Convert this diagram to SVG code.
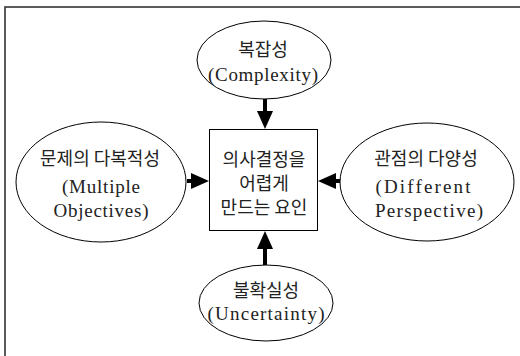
<svg xmlns="http://www.w3.org/2000/svg" width="520" height="356" viewBox="0 0 520 356">
<style>
.frame{fill:none;stroke:#333;stroke-width:1.6}
.node{fill:#fff;stroke:#000;stroke-width:1}
.ko{font-family:"Noto Sans CJK KR","Noto Sans",sans-serif;font-size:18px;fill:#222;text-anchor:middle}
.en{font-family:"Liberation Serif","DejaVu Serif",serif;font-size:19px;fill:#222;text-anchor:middle}
.conn{stroke:#000;stroke-width:4;fill:none}
</style>
<defs>
<marker id="ah" viewBox="0 0 18 16" markerWidth="18" markerHeight="16" refX="1" refY="8" orient="auto" markerUnits="userSpaceOnUse">
<path d="M0,0 L18,8 L0,16 z" fill="#000"/>
</marker>
</defs>
<rect x="0" y="0" width="520" height="356" fill="#fff"/>
<rect class="frame" x="5" y="7" width="600" height="420"/>
<g id="connectors">
<line class="conn" x1="265" y1="99" x2="265" y2="112" marker-end="url(#ah)"/>
<line class="conn" x1="265" y1="265" x2="265" y2="248" marker-end="url(#ah)"/>
<line class="conn" x1="187" y1="181" x2="192" y2="181" marker-end="url(#ah)"/>
<line class="conn" x1="341" y1="181" x2="335" y2="181" marker-end="url(#ah)"/>
</g>
<g id="center">
<rect class="node" x="209.5" y="129.5" width="108" height="101"/>
<text class="ko" x="264" y="166">의사결정을</text>
<text class="ko" x="264" y="190">어렵게</text>
<text class="ko" x="264" y="214">만드는 요인</text>
</g>
<g id="complexity">
<ellipse class="node" cx="264" cy="60" rx="67" ry="39"/>
<text class="ko" x="263" y="56">복잡성</text>
<text class="en" x="263" y="81" textLength="110" lengthAdjust="spacing">(Complexity)</text>
</g>
<g id="multiple">
<ellipse class="node" cx="101" cy="182" rx="85" ry="60"/>
<text class="ko" x="100" y="165">문제의 다복적성</text>
<text class="en" x="101" y="193" textLength="78" lengthAdjust="spacing">(Multiple</text>
<text class="en" x="101" y="217" textLength="95" lengthAdjust="spacing">Objectives)</text>
</g>
<g id="perspective">
<ellipse class="node" cx="427" cy="182" rx="87" ry="59"/>
<text class="ko" x="426" y="165">관점의 다양성</text>
<text class="en" x="423" y="193" textLength="95" lengthAdjust="spacing">(Different</text>
<text class="en" x="429" y="217" textLength="108" lengthAdjust="spacing">Perspective)</text>
</g>
<g id="uncertainty">
<ellipse class="node" cx="266" cy="303" rx="67" ry="38"/>
<text class="ko" x="266" y="297">불확실성</text>
<text class="en" x="266" y="320" textLength="117" lengthAdjust="spacing">(Uncertainty)</text>
</g>
</svg>
